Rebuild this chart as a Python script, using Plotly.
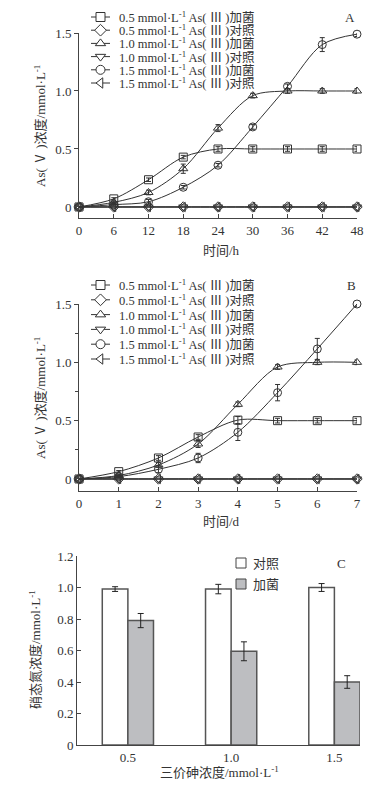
import plotly.graph_objects as go

# The page body has an 8px margin, so the figure is sized to fit inside it
PAGE_W, PAGE_H = 386, 788
OFF = 8
W, H = PAGE_W - 2 * OFF, PAGE_H - 2 * OFF
FONT = "Liberation Serif, Noto Sans CJK SC, serif"
INK = "#333333"

# ---------------- data ----------------
hours = [0, 6, 12, 18, 24, 30, 36, 42, 48]
a_05_bac = [0, 0.07, 0.235, 0.43, 0.50, 0.50, 0.50, 0.50, 0.50]
a_05_bac_err = [0, 0.01, 0.015, 0.015, 0.02, 0.02, 0.02, 0.02, 0.02]
a_05_ctl = [0, 0, 0, 0, 0, 0, 0, 0, 0]
a_10_bac = [0, 0.04, 0.125, 0.33, 0.68, 0.96, 1.0, 1.0, 1.0]
a_10_bac_err = [0, 0.01, 0.02, 0.04, 0.03, 0.02, 0.02, 0.02, 0.02]
a_10_ctl = [0, 0, 0, 0, 0, 0, 0, 0, 0]
a_15_bac = [0, 0.02, 0.045, 0.17, 0.36, 0.69, 1.04, 1.40, 1.49]
a_15_bac_err = [0, 0.01, 0.02, 0.015, 0.015, 0.02, 0.02, 0.06, 0.02]
a_15_ctl = [0, 0, 0, 0, 0, 0, 0, 0, 0]

days = [0, 1, 2, 3, 4, 5, 6, 7]
b_05_bac = [0, 0.063, 0.18, 0.36, 0.505, 0.50, 0.50, 0.50]
b_05_bac_err = [0, 0.01, 0.02, 0.02, 0.03, 0.02, 0.02, 0.02]
b_05_ctl = [0, 0, 0, 0, 0, 0, 0, 0]
b_10_bac = [0, 0.03, 0.12, 0.30, 0.64, 0.96, 1.0, 1.0]
b_10_bac_err = [0, 0.01, 0.02, 0.03, 0.02, 0.02, 0.02, 0.02]
b_10_ctl = [0, 0, 0, 0, 0, 0, 0, 0]
b_15_bac = [0, 0.02, 0.083, 0.18, 0.40, 0.74, 1.115, 1.50]
b_15_bac_err = [0, 0.01, 0.03, 0.04, 0.07, 0.07, 0.09, 0.02]
b_15_ctl = [0, 0, 0, 0, 0, 0, 0, 0]

conc = [0.5, 1.0, 1.5]
conc_labels = ["0.5", "1.0", "1.5"]
c_ctl = [0.99, 0.99, 1.0]
c_ctl_err = [0.015, 0.03, 0.025]
c_bac = [0.79, 0.595, 0.40]
c_bac_err = [0.045, 0.06, 0.04]

series_names = [
    "0.5 mmol·L<sup>-1</sup> As( Ⅲ )加菌",
    "0.5 mmol·L<sup>-1</sup> As( Ⅲ )对照",
    "1.0 mmol·L<sup>-1</sup> As( Ⅲ )加菌",
    "1.0 mmol·L<sup>-1</sup> As( Ⅲ )对照",
    "1.5 mmol·L<sup>-1</sup> As( Ⅲ )加菌",
    "1.5 mmol·L<sup>-1</sup> As( Ⅲ )对照",
]
symbols = ["square", "diamond", "triangle-up", "triangle-down", "circle", "triangle-left"]

y_ticks_ab = [0, 0.5, 1.0, 1.5]
y_ticktext_ab = ["0", "0.5", "1.0", "1.5"]
x_ticks_a = [0, 6, 12, 18, 24, 30, 36, 42, 48]
x_ticks_b = [0, 1, 2, 3, 4, 5, 6, 7]
y_ticks_c = [0, 0.2, 0.4, 0.6, 0.8, 1.0, 1.2]
y_ticktext_c = ["0", "0.2", "0.4", "0.6", "0.8", "1.0", "1.2"]


def pxx(p):
    """page x pixel -> paper fraction"""
    return (p - OFF) / W


def pyy(p):
    """page y pixel -> paper fraction"""
    return 1 - (p - OFF) / H


fig = go.Figure()

panels = [
    ("x", "y", hours, [a_05_bac, a_05_ctl, a_10_bac, a_10_ctl, a_15_bac, a_15_ctl],
     [a_05_bac_err, None, a_10_bac_err, None, a_15_bac_err, None]),
    ("x2", "y2", days, [b_05_bac, b_05_ctl, b_10_bac, b_10_ctl, b_15_bac, b_15_ctl],
     [b_05_bac_err, None, b_10_bac_err, None, b_15_bac_err, None]),
]
for xa, ya, xs, ys_list, errs in panels:
    for name, sym, ys, err in zip(series_names, symbols, ys_list, errs):
        tr = dict(
            x=xs, y=ys, xaxis=xa, yaxis=ya, mode="lines+markers", name=name,
            showlegend=False, cliponaxis=False, hoverinfo="skip",
            line=dict(color=INK, width=1, shape="spline", smoothing=0.9),
            marker=dict(symbol=sym + "-open", size=8, color=INK, line=dict(width=1, color=INK)),
        )
        if err is not None:
            tr["error_y"] = dict(type="data", array=err, visible=True, width=2.5,
                                 thickness=1, color=INK)
        fig.add_trace(go.Scatter(**tr))

BW = 0.124
fig.add_trace(go.Bar(
    x=conc, y=c_ctl, xaxis="x3", yaxis="y3", width=BW, offset=-BW, name="对照",
    showlegend=False, hoverinfo="skip",
    marker=dict(color="white", line=dict(color="#555555", width=1.5)),
    error_y=dict(type="data", array=c_ctl_err, width=3, thickness=1, color="#222"),
))
fig.add_trace(go.Bar(
    x=conc, y=c_bac, xaxis="x3", yaxis="y3", width=BW, offset=0, name="加菌",
    showlegend=False, hoverinfo="skip",
    marker=dict(color="#bdbec1", line=dict(color="#555555", width=1.5)),
    error_y=dict(type="data", array=c_bac_err, width=3, thickness=1, color="#222"),
))

# ---------------- legends (drawn on a page-pixel overlay axis) ----------------
LEG_LINE_X0, LEG_SYM_X, LEG_LINE_X1, LEG_TEXT_X = 91, 100.5, 110, 117
annotations = []
for top, step in ((17, 13.2), (285, 14.8)):
    for i, (name, sym) in enumerate(zip(series_names, symbols)):
        ry = top + i * step
        fig.add_trace(go.Scatter(
            x=[LEG_LINE_X0, LEG_LINE_X1], y=[ry, ry], xaxis="x4", yaxis="y4",
            mode="lines", line=dict(color=INK, width=1), showlegend=False, hoverinfo="skip",
        ))
        fig.add_trace(go.Scatter(
            x=[LEG_SYM_X], y=[ry], xaxis="x4", yaxis="y4", mode="markers",
            marker=dict(symbol=sym, size=9, color="white", line=dict(color=INK, width=1)),
            showlegend=False, hoverinfo="skip", cliponaxis=False,
        ))
        annotations.append(dict(x=LEG_TEXT_X, y=ry, xref="x4", yref="y4", text=name,
                                showarrow=False, xanchor="left", yanchor="middle",
                                font=dict(family=FONT, size=12.5, color=INK)))

for ry, fill, label in ((563, "white", "对照"), (584, "#bdbec1", "加菌")):
    fig.add_trace(go.Scatter(
        x=[241], y=[ry], xaxis="x4", yaxis="y4", mode="markers",
        marker=dict(symbol="square", size=10, color=fill, line=dict(color="#444", width=1)),
        showlegend=False, hoverinfo="skip", cliponaxis=False,
    ))
    annotations.append(dict(x=251, y=ry, xref="x4", yref="y4", text=label, showarrow=False,
                            xanchor="left", yanchor="middle",
                            font=dict(family=FONT, size=13, color=INK)))

# panel letters and axis titles
for txt, x, y, ang in (
    ("A", 350, 17, 0), ("B", 351, 285, 0), ("C", 341, 563, 0),
    ("时间/h", 221, 250, 0), ("时间/d", 221, 521, 0),
    ("三价砷浓度/mmol·L<sup>-1</sup>", 219, 772, 0),
    ("As( Ⅴ )浓度/mmol·L<sup>-1</sup>", 40, 126, -90),
    ("As( Ⅴ )浓度/mmol·L<sup>-1</sup>", 40, 398, -90),
    ("硝态氮浓度/mmol·L<sup>-1</sup>", 35, 650, -90),
):
    annotations.append(dict(x=x, y=y, xref="x4", yref="y4", text=txt, showarrow=False,
                            xanchor="center", yanchor="middle", textangle=ang,
                            font=dict(family=FONT, size=13, color=INK)))

axis_common = dict(showgrid=False, zeroline=False, showline=True, linecolor="#444",
                   linewidth=1, tickcolor="#444", tickfont=dict(family=FONT, size=13, color=INK),
                   fixedrange=True, automargin=False)

fig.update_layout(
    template="none",
    width=W, height=H, margin=dict(l=0, r=0, t=0, b=0, pad=0, autoexpand=False),
    paper_bgcolor="white", plot_bgcolor="rgba(0,0,0,0)",
    barmode="overlay", showlegend=False,
    xaxis=dict(domain=[pxx(79), pxx(357)], range=[0, 48], anchor="y",
               tickvals=x_ticks_a, ticks="inside", ticklen=4, **axis_common),
    yaxis=dict(domain=[pyy(218), pyy(33)], range=[-0.095, 1.5], anchor="x",
               tickvals=y_ticks_ab, ticktext=y_ticktext_ab, ticks="outside", ticklen=4,
               **axis_common),
    xaxis2=dict(domain=[pxx(79), pxx(357)], range=[0, 7], anchor="y2",
                tickvals=x_ticks_b, ticks="inside", ticklen=4, **axis_common),
    yaxis2=dict(domain=[pyy(491), pyy(304)], range=[-0.103, 1.5], anchor="x2",
                tickvals=y_ticks_ab, ticktext=y_ticktext_ab, ticks="outside", ticklen=4,
                minor=dict(dtick=0.25, tick0=0, ticks="outside", ticklen=3, tickcolor="#444"),
                **axis_common),
    xaxis3=dict(domain=[pxx(77), pxx(360)], range=[0.2536, 1.624], anchor="y3",
                tickvals=conc, ticktext=conc_labels, ticks="", **axis_common),
    yaxis3=dict(domain=[pyy(745), pyy(556)], range=[0, 1.2], anchor="x3",
                tickvals=y_ticks_c, ticktext=y_ticktext_c, ticks="inside", ticklen=4,
                **axis_common),
    xaxis4=dict(domain=[0, 1], range=[OFF, OFF + W], visible=False, anchor="y4",
                fixedrange=True, automargin=False),
    yaxis4=dict(domain=[0, 1], range=[OFF + H, OFF], visible=False, anchor="x4",
                fixedrange=True, automargin=False),
    annotations=annotations,
)

fig.write_html("out.html")
